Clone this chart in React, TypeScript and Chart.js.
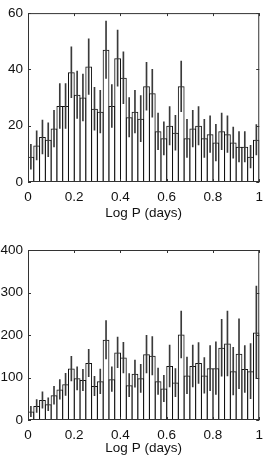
import React, { useEffect, useRef } from 'react';
import { Chart, registerables } from 'chart.js';

Chart.register(...registerables);

const binCenters = [
  0.0125, 0.0375, 0.0625, 0.0875, 0.1125, 0.1375, 0.1625, 0.1875, 0.2125, 0.2375,
  0.2625, 0.2875, 0.3125, 0.3375, 0.3625, 0.3875, 0.4125, 0.4375, 0.4625, 0.4875,
  0.5125, 0.5375, 0.5625, 0.5875, 0.6125, 0.6375, 0.6625, 0.6875, 0.7125, 0.7375,
  0.7625, 0.7875, 0.8125, 0.8375, 0.8625, 0.8875, 0.9125, 0.9375, 0.9625, 0.9875,
];

const topCounts = [
  9, 13, 16, 15, 19, 27, 27, 39, 31, 30,
  41, 26, 25, 47, 27, 44, 37, 23, 25, 22.5,
  34, 31.5, 18, 15.5, 20, 17.5, 34, 15.5, 19, 20,
  15.5, 17, 14, 18, 17, 14, 12.5, 12.5, 9, 15,
];
const topErrors = [
  4.4, 5.2, 6, 6, 6.5, 8, 8, 9, 8.4, 8.3,
  9.9, 7.6, 7.6, 10.2, 7.6, 10, 9.2, 7, 7.6, 8.2,
  8.5, 8.5, 6.5, 5.9, 6.8, 6.2, 9, 6.8, 6.5, 6.8,
  6.8, 6.5, 6.5, 6.5, 6.5, 5.5, 5.4, 5.4, 4, 5.4,
];

const bottomCounts = [
  20, 33, 47, 37, 58, 72, 84, 121, 98, 94,
  134, 80, 91, 189, 96, 159, 147, 82, 109, 98,
  155, 151, 91, 74, 127, 88, 201, 105, 127, 134,
  105, 122, 122, 170, 180, 115, 156, 120, 115, 206,
];
const bottomErrors = [
  12, 15, 19, 15, 21, 23, 26, 29, 27, 25,
  32, 23, 29, 45, 29, 36, 36, 27, 32, 33,
  44, 45, 31, 31, 49, 33, 55, 43, 49, 48,
  42, 53, 62, 67, 76, 56, 82, 55, 65, 109,
];

const xTitle = 'Log P (days)';
const xMin = 0;
const xMax = 1;
const xStep = 0.2;

const FONT = { family: '"Liberation Sans", Arial, Helvetica, sans-serif', size: 13.5 };
const INK = '#111';

const boxPlugin = {
  id: 'boxTicks',
  afterDatasetsDraw(chart: any) {
    const { ctx, chartArea, scales } = chart;
    const { left, right, top, bottom } = chartArea;
    ctx.save();
    ctx.strokeStyle = '#333';
    ctx.lineWidth = 1;
    ctx.strokeRect(left + 0.5, top + 0.5, right - left - 1, bottom - top - 1);
    const tl = 3;
    ctx.beginPath();
    scales.x.ticks.forEach((t: any) => {
      const px = Math.round(scales.x.getPixelForValue(t.value)) + 0.5;
      ctx.moveTo(px, top);
      ctx.lineTo(px, top + tl);
      ctx.moveTo(px, bottom);
      ctx.lineTo(px, bottom - tl);
    });
    scales.y.ticks.forEach((t: any) => {
      const py = Math.round(scales.y.getPixelForValue(t.value)) + 0.5;
      ctx.moveTo(left, py);
      ctx.lineTo(left + tl, py);
      ctx.moveTo(right, py);
      ctx.lineTo(right - tl, py);
    });
    ctx.stroke();
    ctx.restore();
  },
};

type PanelProps = {
  counts: number[];
  errors: number[];
  yMax: number;
  yStep: number;
  areaTop: number;
  axisHeight: number;
  titleBottom: number;
  height: number;
};

function Panel({ counts, errors, yMax, yStep, areaTop, axisHeight, titleBottom, height }: PanelProps) {
  const ref = useRef<HTMLCanvasElement | null>(null);
  useEffect(() => {
    if (!ref.current) return;
    const bars = binCenters.map((x, i) => ({ x, y: counts[i] }));
    const errs = binCenters.map((x, i) => ({
      x,
      y: [Math.max(0, counts[i] - errors[i]), counts[i] + errors[i]],
    }));
    const chart = new Chart(ref.current, {
      type: 'bar',
      data: {
        datasets: [
          {
            data: errs as any,
            backgroundColor: '#3a3a3a',
            borderWidth: 0,
            barThickness: 1,
            grouped: false,
          } as any,
          {
            data: bars as any,
            backgroundColor: 'rgba(0,0,0,0)',
            borderColor: INK,
            borderWidth: 1,
            borderSkipped: 'start',
            barPercentage: 1.17,
            categoryPercentage: 1,
            grouped: false,
            inflateAmount: 0,
          } as any,
        ],
      },
      options: {
        animation: false,
        responsive: false,
        maintainAspectRatio: false,
        layout: { padding: { top: areaTop, right: 9, left: 0, bottom: 0 } },
        plugins: { legend: { display: false }, tooltip: { enabled: false } },
        scales: {
          x: {
            type: 'linear',
            min: xMin,
            max: xMax,
            offset: false,
            grid: { display: false, drawTicks: false },
            border: { display: false },
            ticks: {
              stepSize: xStep,
              padding: 7,
              color: INK,
              font: FONT,
              maxRotation: 0,
              callback: (v: any) => String(Number(Number(v).toFixed(1))),
            },
            title: {
              display: true,
              text: xTitle,
              color: INK,
              font: FONT,
              padding: { top: 0, bottom: titleBottom },
            },
            afterFit: (s: any) => {
              s.height = axisHeight;
            },
          },
          y: {
            type: 'linear',
            min: 0,
            max: yMax,
            grid: { display: false, drawTicks: false },
            border: { display: false },
            ticks: { stepSize: yStep, padding: 5, color: INK, font: FONT },
            afterFit: (s: any) => {
              s.width = 28;
            },
          },
        },
      } as any,
      plugins: [boxPlugin],
    });
    return () => chart.destroy();
  }, []);
  return <canvas ref={ref} width={270} height={height} style={{ display: 'block' }} />;
}

export default function App() {
  return (
    <div style={{ position: 'absolute', left: 0, top: 0, width: 270, height: 460, background: '#fff' }}>
      <Panel
        counts={topCounts}
        errors={topErrors}
        yMax={60}
        yStep={20}
        areaTop={12}
        axisHeight={48}
        titleBottom={9}
        height={230}
      />
      <Panel
        counts={bottomCounts}
        errors={bottomErrors}
        yMax={400}
        yStep={100}
        areaTop={20}
        axisHeight={40}
        titleBottom={4}
        height={230}
      />
    </div>
  );
}
